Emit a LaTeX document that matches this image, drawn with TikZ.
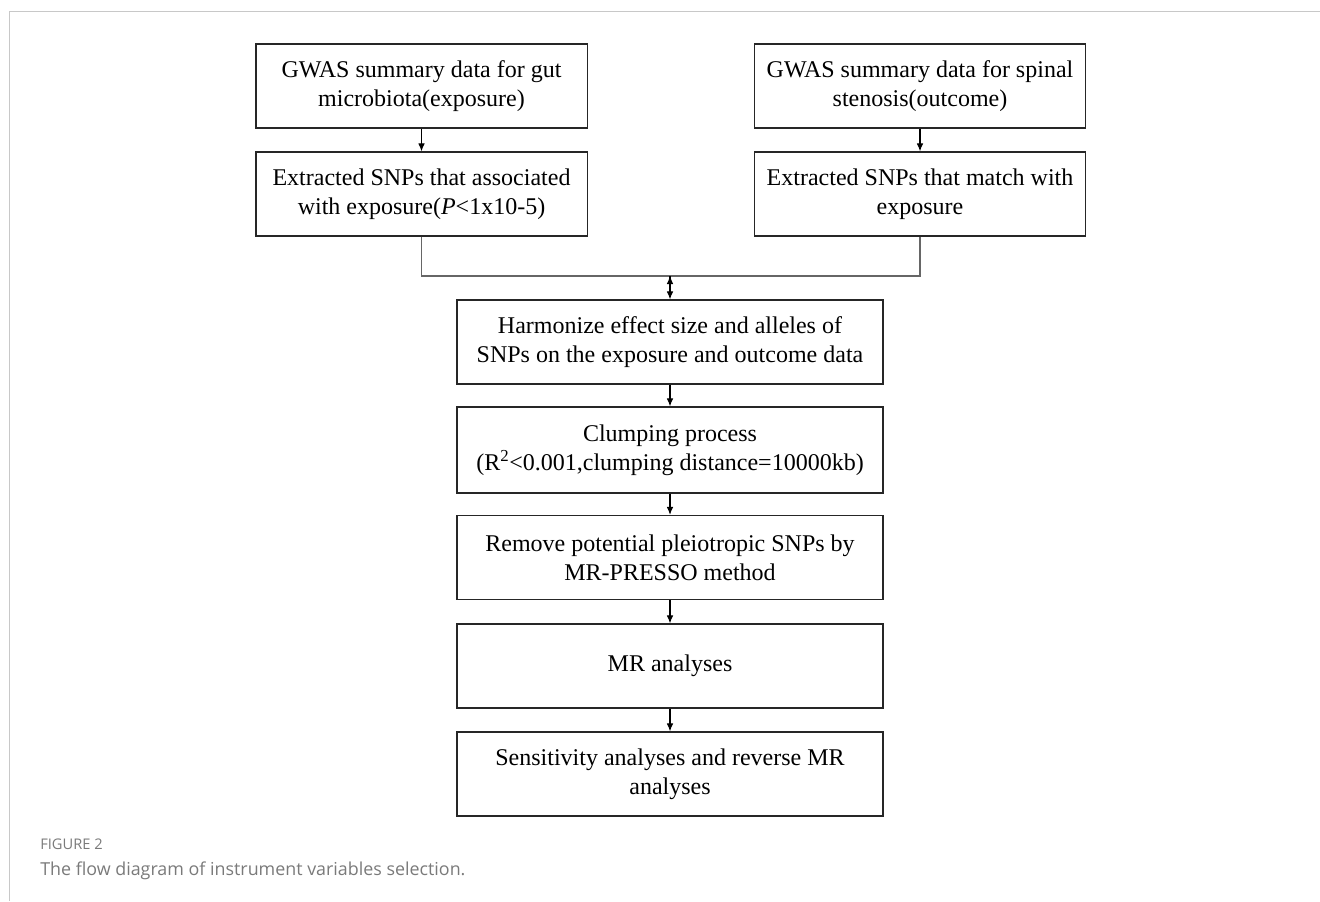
\documentclass[tikz,border=0pt]{standalone}
\usepackage{fontspec}
\setmainfont{Liberation Serif}
\newfontfamily\capfont{Open Sans}
\usetikzlibrary{positioning, calc, arrows.meta}
\tikzset{>={Latex[length=6pt,width=5pt]}}
\definecolor{framegray}{HTML}{C8C8C8}
\definecolor{capgray}{HTML}{7A7A7A}

\begin{document}
\begin{tikzpicture}[x=0.75pt,y=-0.75pt,
    box/.style={draw=black!85,line width=1pt,inner sep=0pt,align=center,font=\fontsize{18}{21.75}\selectfont},
    sidebox/.style={box,minimum width=248.5pt,minimum height=63pt},
    mainbox/.style={box,minimum width=319.5pt,minimum height=63pt},
    link/.style={draw=black!60,line width=0.8pt},
    flow/.style={->,draw=black,line width=0.8pt}]
    \useasboundingbox (0,0) rectangle (1320,901);
    % outer frame
    \draw[framegray,line width=0.75pt] (1320,11) -- (9.5,11) -- (9.5,901);
    % two input columns
    \node[sidebox] (gutgwas) at (421.5,86) {GWAS summary data for gut\\microbiota(exposure)};
    \node[sidebox] (gutsnp) at (421.5,194) {Extracted SNPs that associated\\with exposure(\textit{P}<1x10-5)};
    \node[sidebox] (spgwas) at (920,86) {GWAS summary data for spinal\\stenosis(outcome)};
    \node[sidebox] (spsnp) at (920,194) {Extracted SNPs that match with\\exposure};
    % main column
    \node[mainbox] (harm) at (670,342) {Harmonize effect size and alleles of\\SNPs on the exposure and outcome data};
    \node[mainbox,minimum height=64.5pt] (clump) at (670,450) {Clumping process\\(R\textsuperscript{2}<0.001,clumping distance=10000kb)};
    \node[mainbox] (presso) at (670,557.5) {Remove potential pleiotropic SNPs by\\MR-PRESSO method};
    \node[mainbox] (mr) at (670,666) {MR analyses};
    \node[mainbox] (sens) at (670,774) {Sensitivity analyses and reverse MR\\analyses};
    \coordinate (join) at (670,276);
    \draw[link] (gutsnp.south) |- (join) -| (spsnp.south);
    \path[flow]
        (gutgwas) edge (gutsnp)
        (spgwas)  edge (spsnp)
        (join)    edge (harm)
        (harm)    edge (clump)
        (clump)   edge (presso)
        (presso)  edge (mr)
        (mr)      edge (sens)
    ;
    % caption
    \node[anchor=base west,inner sep=0pt,text=capgray,font=\capfont\fontsize{11}{13}\selectfont] (figno) at (40,849) {FIGURE 2};
    \node[anchor=base west,inner sep=0pt,text=capgray,font=\capfont\fontsize{13.4}{15}\selectfont] (figtext) at (40,875) {The flow diagram of instrument variables selection.};
\end{tikzpicture}
\end{document}
